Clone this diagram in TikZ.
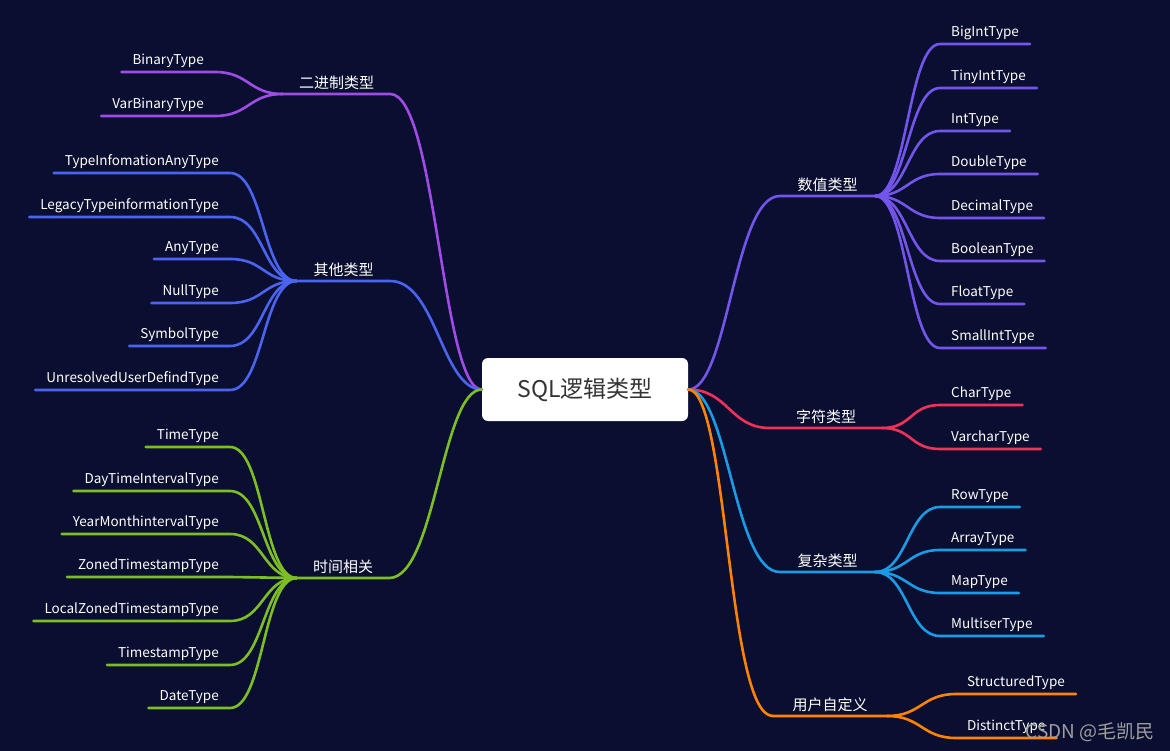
\documentclass[tikz,border=0pt]{standalone}
\usepackage{fontspec}
\setmainfont{Noto Sans CJK SC}
\usetikzlibrary{positioning,calc}
\definecolor{fondo}{RGB}{10,14,48}
\definecolor{binario}{RGB}{160,75,230}
\definecolor{numerico}{RGB}{115,85,235}
\definecolor{otro}{RGB}{75,100,240}
\definecolor{tiempo}{RGB}{125,190,35}
\definecolor{caracter}{RGB}{240,50,90}
\definecolor{complejo}{RGB}{25,155,230}
\definecolor{usuario}{RGB}{255,130,0}
\definecolor{oscuro}{RGB}{51,51,51}
\tikzset{
  raiz/.style={fill=white,text=oscuro,rounded corners=6pt,minimum width=206pt,
               minimum height=63pt,font=\fontsize{23}{27}\selectfont},
  rama/.style={text=white,font=\fontsize{15}{18}\selectfont,inner xsep=0pt,
               inner ysep=5pt,text depth=0pt,anchor=south},
  hoja/.style={text=white,font=\fontsize{13.5}{16}\selectfont,inner xsep=11pt,
               inner ysep=7pt,text depth=0pt},
  linea/.style={line width=2.6pt,line cap=round},
}

\begin{document}
\begin{tikzpicture}[x=1pt,y=-1pt]
    \fill[fondo] (0,0) rectangle (1170,751);
    \useasboundingbox (0,0) rectangle (1170,751);
    \node[raiz] (sql) at (585,389.5) {SQL逻辑类型};
    % ramas
    \node[rama,minimum width=107pt] (bin) at (336.5,94) {二进制类型};
    \node[rama,minimum width=93pt] (otros) at (343.5,281) {其他类型};
    \node[rama,minimum width=92pt] (tiempos) at (343,578) {时间相关};
    \node[rama,minimum width=95pt] (num) at (827.5,196) {数值类型};
    \node[rama,minimum width=112pt] (car) at (826,428) {字符类型};
    \node[rama,minimum width=95pt] (comp) at (827.5,572) {复杂类型};
    \node[rama,minimum width=114pt] (usr) at (830,716) {用户自定义};
    \draw[linea,binario] (sql.west) .. controls +(-40,0) and +(46,0) .. (bin.south east) -- (bin.south west);
    \draw[linea,otro] (sql.west) .. controls +(-40,0) and +(46,0) .. (otros.south east) -- (otros.south west);
    \draw[linea,tiempo] (sql.west) .. controls +(-40,0) and +(46,0) .. (tiempos.south east) -- (tiempos.south west);
    \draw[linea,numerico] (sql.east) .. controls +(40,0) and +(-46,0) .. (num.south west) -- (num.south east);
    \draw[linea,caracter] (sql.east) .. controls +(40,0) and +(-40,0) .. (car.south west) -- (car.south east);
    \draw[linea,complejo] (sql.east) .. controls +(40,0) and +(-46,0) .. (comp.south west) -- (comp.south east);
    \draw[linea,usuario] (sql.east) .. controls +(40,0) and +(-46,0) .. (usr.south west) -- (usr.south east);
    % hojas de la izquierda
    \foreach \n/\y/\t in {binary/72/BinaryType,varbinary/116/VarBinaryType} {
      \node[hoja,anchor=south east] (\n) at (215,\y) {\t};
      \draw[linea,binario] (bin.south west) .. controls +(-34,0) and +(34,0) .. (\n.south east) -- (\n.south west);
    }
    \foreach \n/\y/\t in {typeinfo/173/TypeInfomationAnyType,legacy/217/LegacyTypeinformationType,
        any/259/AnyType,null/303/NullType,symbol/346/SymbolType,unresolved/390/UnresolvedUserDefindType} {
      \node[hoja,anchor=south east] (\n) at (230,\y) {\t};
      \draw[linea,otro] (otros.south west) .. controls +(-34,0) and +(34,0) .. (\n.south east) -- (\n.south west);
    }
    \foreach \n/\y/\t in {time/447/TimeType,daytime/491/DayTimeIntervalType,yearmonth/534/YearMonthintervalType,
        zoned/577/ZonedTimestampType,localzoned/621/LocalZonedTimestampType,timestamp/665/TimestampType,date/708/DateType} {
      \node[hoja,anchor=south east] (\n) at (230,\y) {\t};
      \draw[linea,tiempo] (tiempos.south west) .. controls +(-34,0) and +(34,0) .. (\n.south east) -- (\n.south west);
    }
    % hojas de la derecha
    \foreach \n/\y/\t in {bigint/44/BigIntType,tinyint/88/TinyIntType,int/131/IntType,double/174/DoubleType,
        decimal/218/DecimalType,boolean/261/BooleanType,float/304/FloatType,smallint/348/SmallIntType} {
      \node[hoja,anchor=south west] (\n) at (940,\y) {\t};
      \draw[linea,numerico] (num.south east) .. controls +(32,0) and +(-32,0) .. (\n.south west) -- (\n.south east);
    }
    \foreach \n/\y/\t in {char/405/CharType,varchar/449/VarcharType} {
      \node[hoja,anchor=south west] (\n) at (940,\y) {\t};
      \draw[linea,caracter] (car.south east) .. controls +(30,0) and +(-30,0) .. (\n.south west) -- (\n.south east);
    }
    \foreach \n/\y/\t in {row/507/RowType,array/550/ArrayType,map/593/MapType,multiset/636/MultiserType} {
      \node[hoja,anchor=south west] (\n) at (940,\y) {\t};
      \draw[linea,complejo] (comp.south east) .. controls +(32,0) and +(-32,0) .. (\n.south west) -- (\n.south east);
    }
    \foreach \n/\y/\t in {structured/694/StructuredType,distinct/738/DistinctType} {
      \node[hoja,anchor=south west] (\n) at (956,\y) {\t};
      \draw[linea,usuario] (usr.south east) .. controls +(34,0) and +(-34,0) .. (\n.south west) -- (\n.south east);
    }
    \node[text=gray!75,font=\fontsize{19}{22}\selectfont,anchor=east,inner sep=0pt] (marca) at (1155,732) {CSDN @毛凯民};
  \end{tikzpicture}
\end{document}
